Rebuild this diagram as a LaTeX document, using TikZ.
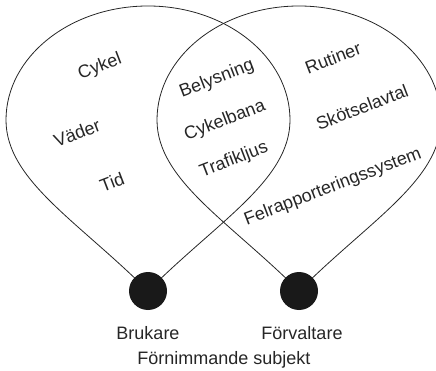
\documentclass[tikz,border=0pt]{standalone}
\usepackage{fontspec}
\setmainfont{Liberation Sans}
\begin{document}
\begin{tikzpicture}[x=1pt,y=-1pt,
  lobe/.style={draw=black!85,line width=0.8pt},
  dot/.style={circle,fill=black!90,minimum size=38pt,inner sep=0pt},
  lbl/.style={font=\fontsize{18}{20}\selectfont,text=black!85,inner sep=0pt,rotate=21},
  captxt/.style={font=\fontsize{18}{20}\selectfont,text=black!85,inner sep=0pt}]
\useasboundingbox (0,0) rectangle (436,371);
\clip (0,0) rectangle (436,371);
\coordinate (bc) at (148,291);
\coordinate (fc) at (299,291);
% left lobe
\draw[lobe] (bc) .. controls (78,221) and (6,180) .. (6,120)
  .. controls (6,57) and (70,6) .. (148,6)
  .. controls (226,6) and (290,57) .. (290,120)
  .. controls (290,180) and (218,221) .. (bc);
% right lobe
\begin{scope}[xshift=151pt]
\draw[lobe] (148,291) .. controls (78,221) and (6,180) .. (6,120)
  .. controls (6,57) and (70,6) .. (148,6)
  .. controls (226,6) and (290,57) .. (290,120)
  .. controls (290,180) and (218,221) .. (148,291);
\end{scope}
\node[dot] (bru) at (bc) {};
\node[dot] (forv) at (fc) {};
\node[lbl] (cykel) at (100,67) {Cykel};
\node[lbl] (vader) at (77,133) {Väder};
\node[lbl] (tid) at (112,182) {Tid};
\node[lbl] (bel) at (217,79) {Belysning};
\node[lbl] (cbana) at (225,121) {Cykelbana};
\node[lbl] (traf) at (234,160) {Trafikljus};
\node[lbl] (rut) at (333,58) {Rutiner};
\node[lbl] (skot) at (362,107) {Skötselavtal};
\node[lbl] (felr) at (333,187) {Felrapporteringssystem};
\node[captxt] (brut) at (148,333) {Brukare};
\node[captxt] (forvt) at (302,333) {Förvaltare};
\node[captxt] (fsub) at (224,360) {Förnimmande subjekt};
\end{tikzpicture}
\end{document}
